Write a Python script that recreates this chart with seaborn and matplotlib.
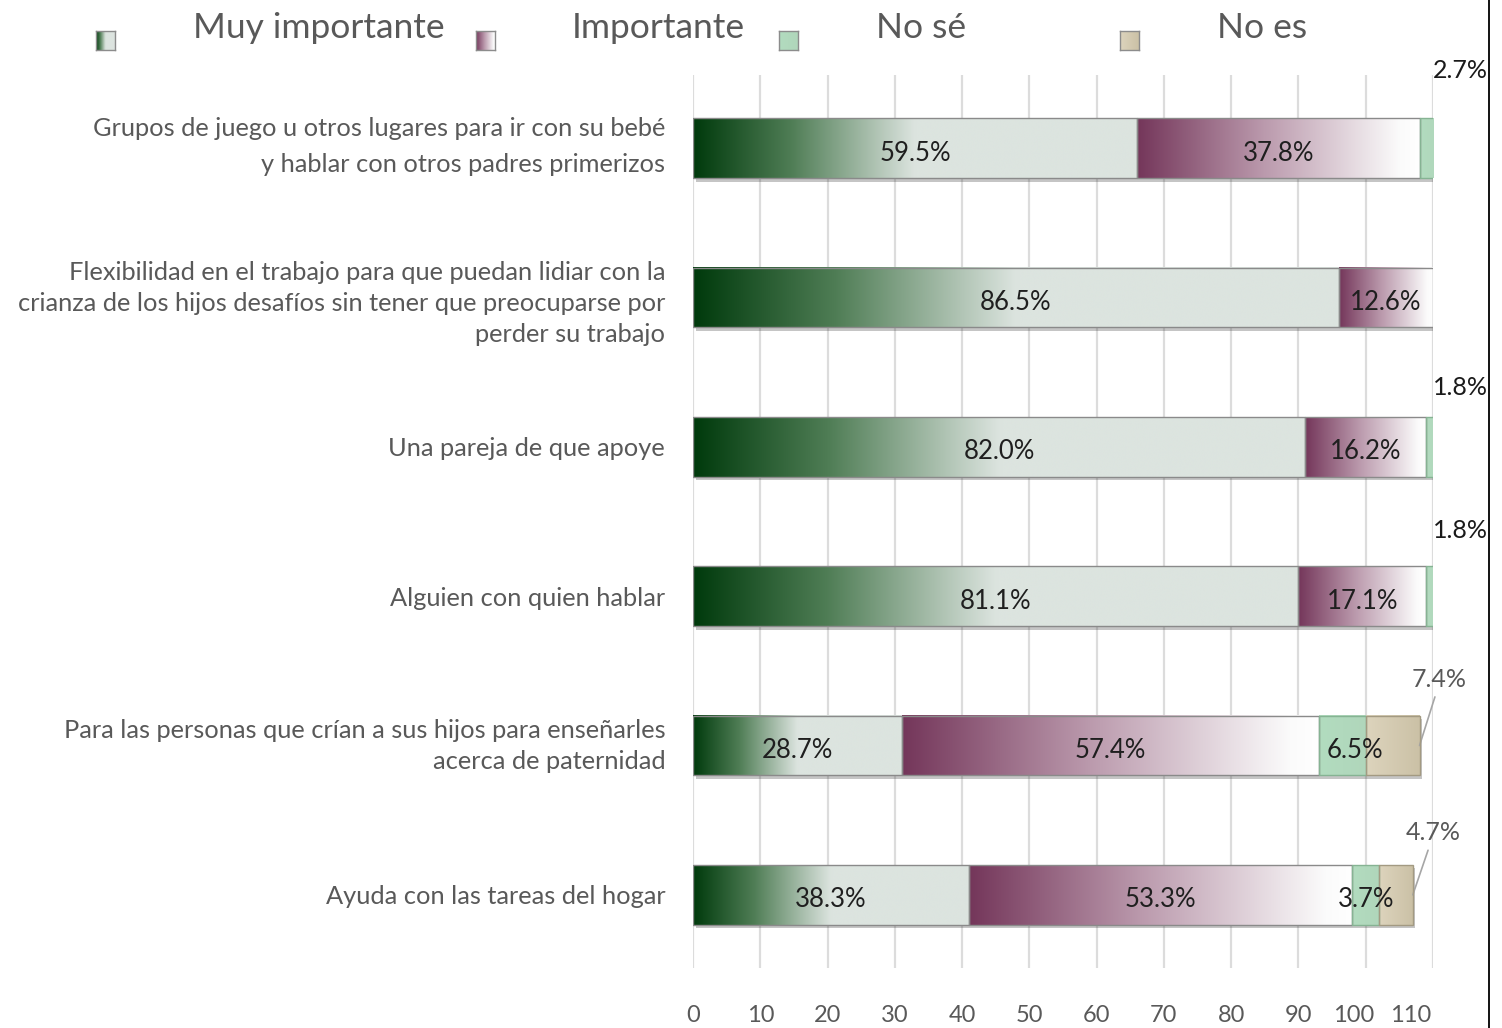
import numpy as np
import pandas as pd
import seaborn as sns
import matplotlib.pyplot as plt
from matplotlib.colors import LinearSegmentedColormap
from matplotlib.transforms import ScaledTranslation, Bbox, TransformedBbox
from matplotlib.lines import Line2D

# ---- data: respondent counts per answer, and number of respondents per item ----
items = [
    "Grupos de juego u otros lugares para ir con su bebé\ny hablar con otros padres primerizos",
    "Flexibilidad en el trabajo para que puedan lidiar con la\ncrianza de los hijos desafíos sin tener que preocuparse por\nperder su trabajo",
    "Una pareja de que apoye",
    "Alguien con quien hablar",
    "Para las personas que crían a sus hijos para enseñarles\nacerca de paternidad",
    "Ayuda con las tareas del hogar",
]
series = ["Muy importante", "Importante", "No sé", "No es importante"]
muy_importante = [66, 96, 91, 90, 31, 41]
importante = [42, 14, 18, 19, 62, 57]
no_se = [3, 0, 2, 2, 7, 4]
no_es_importante = [0, 0, 0, 0, 8, 5]
respondents = [111, 111, 111, 111, 108, 107]
x_ticks = [0, 10, 20, 30, 40, 50, 60, 70, 80, 90, 100, 110]

counts = [muy_importante, importante, no_se, no_es_importante]

# ---- styling ----
sns.set_style("white")
plt.rcParams["font.family"] = ["Lato", "DejaVu Sans"]
GRAY_TEXT = "#595959"
gradients = [
    LinearSegmentedColormap.from_list("g", [(0, "#003a0c"), (0.22, "#4f7d55"), (0.5, "#dce4df"), (1, "#dce4df")]),
    LinearSegmentedColormap.from_list("p", [(0, "#74365a"), (0.45, "#bb9aad"), (0.93, "#fbfbfb"), (1, "#ffffff")]),
    LinearSegmentedColormap.from_list("n", [(0, "#b2dcbf"), (1, "#b0d6bb")]),
    LinearSegmentedColormap.from_list("t", [(0, "#ddd4bd"), (1, "#cbc1a6")]),
]
edge_colors = ["#8a8a8a", "#8a8a8a", "#86b393", "#a39a82"]

W, H = 1502, 1028
fig = plt.figure(figsize=(W / 100, H / 100), dpi=100)
ax = fig.add_axes([693 / W, 60 / H, 740 / W, 893 / H])

df = pd.DataFrame({"item": items})
for name, vals in zip(series, counts):
    df[name] = vals
df["total"] = df[series].sum(axis=1)

bar_h = 0.40

# drop shadow under each whole stack
sns.barplot(data=df, x="total", y="item", orient="h", color="#404040", alpha=0.3,
            width=bar_h, ax=ax, zorder=2, linewidth=0)
shift = ScaledTranslation(2.5 / 100, -3.5 / 100, fig.dpi_scale_trans)
for p in ax.containers[0]:
    p.set_transform(ax.transData + shift)

# stacked segments
left = np.zeros(len(items))
seg_containers = []
for name in series:
    sns.barplot(data=df, x=name, y="item", orient="h", left=left.copy(),
                width=bar_h, ax=ax, color="white", zorder=4, linewidth=0)
    seg_containers.append(ax.containers[-1])
    left = left + df[name].to_numpy()

grad = np.linspace(0, 1, 256).reshape(1, -1)
for s, cont in enumerate(seg_containers):
    for p in cont:
        w = p.get_width()
        if w <= 0:
            p.set_visible(False)
            continue
        x0, y0, h = p.get_x(), p.get_y(), p.get_height()
        p.set_facecolor("none")
        p.set_edgecolor(edge_colors[s])
        p.set_linewidth(1.0)
        p.set_clip_box(ax.bbox)
        im = ax.imshow(grad, cmap=gradients[s], extent=(x0, x0 + w, y0 + h, y0),
                       aspect="auto", interpolation="bicubic", zorder=3)
        im.set_clip_path(p)
        im.set_clip_box(ax.bbox)

ax.set_xlim(0, 110)
ax.set_ylim(len(items) - 0.51, -0.49)
ax.set_xticks(x_ticks)
ax.set_xticklabels([str(t) for t in x_ticks])
ax.xaxis.grid(True, color="#dcdcdc", lw=1.6)
ax.yaxis.grid(False)
ax.set_axisbelow(True)
for sp in ax.spines.values():
    sp.set_visible(False)
ax.set_xlabel("")
ax.set_ylabel("")
ax.tick_params(axis="x", length=0, pad=27, labelsize=17, labelcolor=GRAY_TEXT)
ax.tick_params(axis="y", length=0, pad=20, labelsize=18.3, labelcolor=GRAY_TEXT)

# the two last tick labels are nudged left so they do not crowd each other
tick_nudge = {100: -12, 110: -22}  # pixels
for t, lab in zip(x_ticks, ax.get_xticklabels()):
    if t in tick_nudge:
        lab.set_transform(lab.get_transform()
                          + ScaledTranslation(tick_nudge[t] / 100, 0, fig.dpi_scale_trans))

label_raise = {0: 10, 4: 5}  # pixels
for i, lab in enumerate(ax.get_yticklabels()):
    lab.set_linespacing(1.68 if i == 0 else 1.42)
    if i in label_raise:
        lab.set_transform(lab.get_transform()
                          + ScaledTranslation(0, label_raise[i] / 100, fig.dpi_scale_trans))

# ---- value labels (share of respondents) ----
outside_up = {0: 78, 2: 59, 3: 66}      # small "No sé" shares shown above the bar end
leader_up = {4: 66, 5: 62}              # "No es importante" shares with leader line
inside_dx = {(4, 2): 13}
for s, cont in enumerate(seg_containers):
    for r, p in enumerate(cont):
        w = p.get_width()
        if w <= 0:
            continue
        pct = f"{counts[s][r] / respondents[r] * 100:.1f}%"
        xc = p.get_x() + w / 2
        if s == 2 and r in outside_up:
            ax.annotate(pct, xy=(110, r), xytext=(27, outside_up[r]),
                        textcoords="offset pixels", ha="center", va="center",
                        fontsize=18, color="#1a1a1a", annotation_clip=False)
        elif s == 3 and r in leader_up:
            ax.annotate(pct, xy=(p.get_x() + w, r), xytext=(20, leader_up[r]),
                        textcoords="offset pixels", ha="center", va="center",
                        fontsize=18, color=GRAY_TEXT, annotation_clip=False,
                        arrowprops=dict(arrowstyle="-", color="#a6a6a6", lw=1.2,
                                        shrinkA=2, shrinkB=0, relpos=(0.45, 0.0)))
        else:
            ax.annotate(pct, xy=(xc, r), xytext=(inside_dx.get((r, s), 0), -5),
                        textcoords="offset pixels", ha="center", va="center",
                        fontsize=18.5, color="#1f1f1f", zorder=6)

# ---- legend along the top ----
square_x = [96, 476, 779, 1120]
label_x = [193, 572, 876, 1217]
legend_labels = ["Muy importante", "Importante", "No sé", "No es\nimportante"]
clip = TransformedBbox(Bbox([[0, 1 - 44 / H], [1, 1]]), fig.transFigure)
for s in range(len(series)):
    lax = fig.add_axes([square_x[s] / W, 1 - 50 / H, 19 / W, 19 / H])
    lax.imshow(grad, cmap=gradients[s], aspect="auto", interpolation="bicubic")
    lax.set_xticks([])
    lax.set_yticks([])
    for sp in lax.spines.values():
        sp.set_color("#8c8c8c")
        sp.set_linewidth(1.0)
    t = fig.text(label_x[s] / W, 1 - 12 / H, legend_labels[s], ha="left", va="top",
                 fontsize=25.5, color=GRAY_TEXT, linespacing=1.6)
    t.set_clip_box(clip)
    t.set_clip_on(True)

# frame line on the right edge
fig.add_artist(Line2D([1489 / W, 1489 / W], [0, 1], color="black", lw=1.3,
                      transform=fig.transFigure))

fig.savefig("out.png", dpi=100, facecolor="white")
